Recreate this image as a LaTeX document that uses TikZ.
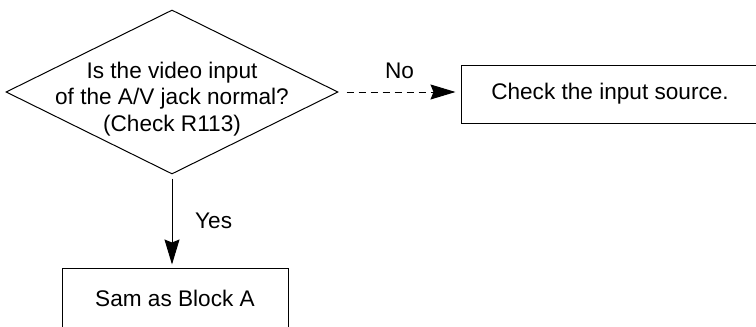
\documentclass[tikz,border=0pt]{standalone}
\usepackage{fontspec}
\setmainfont{Liberation Sans}
\usetikzlibrary{shapes.geometric,arrows.meta,positioning}
\tikzset{
  decision/.style={draw, diamond, line width=0.5pt, minimum width=166pt, minimum height=82pt, inner sep=0pt},
  stepbox/.style={draw, line width=0.5pt, inner sep=0pt},
  flow/.style={line width=0.5pt, -{Stealth[length=12.5pt,width=7.5pt,inset=1.5pt]}},
}
\begin{document}
\begin{tikzpicture}[x=0.5pt, y=-0.5pt, font=\fontsize{11.3}{13.25}\selectfont]
			\clip (0,0) rectangle (756,327);
			\node[decision] (video) at (172,92) {};
			\node[align=center] (videotext) at (172,99) {Is the video input\\of the A/V jack normal?\\(Check R113)};
			\node[stepbox, minimum width=149pt, minimum height=29pt] (source) at (610,94) {Check the input source.};
			\node[stepbox, minimum width=113pt, minimum height=30pt] (blocka) at (175,298) {Sam as Block A};
			\draw[flow, dash pattern=on 3.5pt off 2.5pt, shorten <=4pt, shorten >=2.5pt] (video.east) -- (video.east -| source.west) node[midway, above=3pt] (no) {No};
			\draw[flow, shorten <=2pt, shorten >=1.5pt] (video.south) -- (video.south |- blocka.north) node[midway, right=8pt] (yes) {Yes};
\end{tikzpicture}
\end{document}
